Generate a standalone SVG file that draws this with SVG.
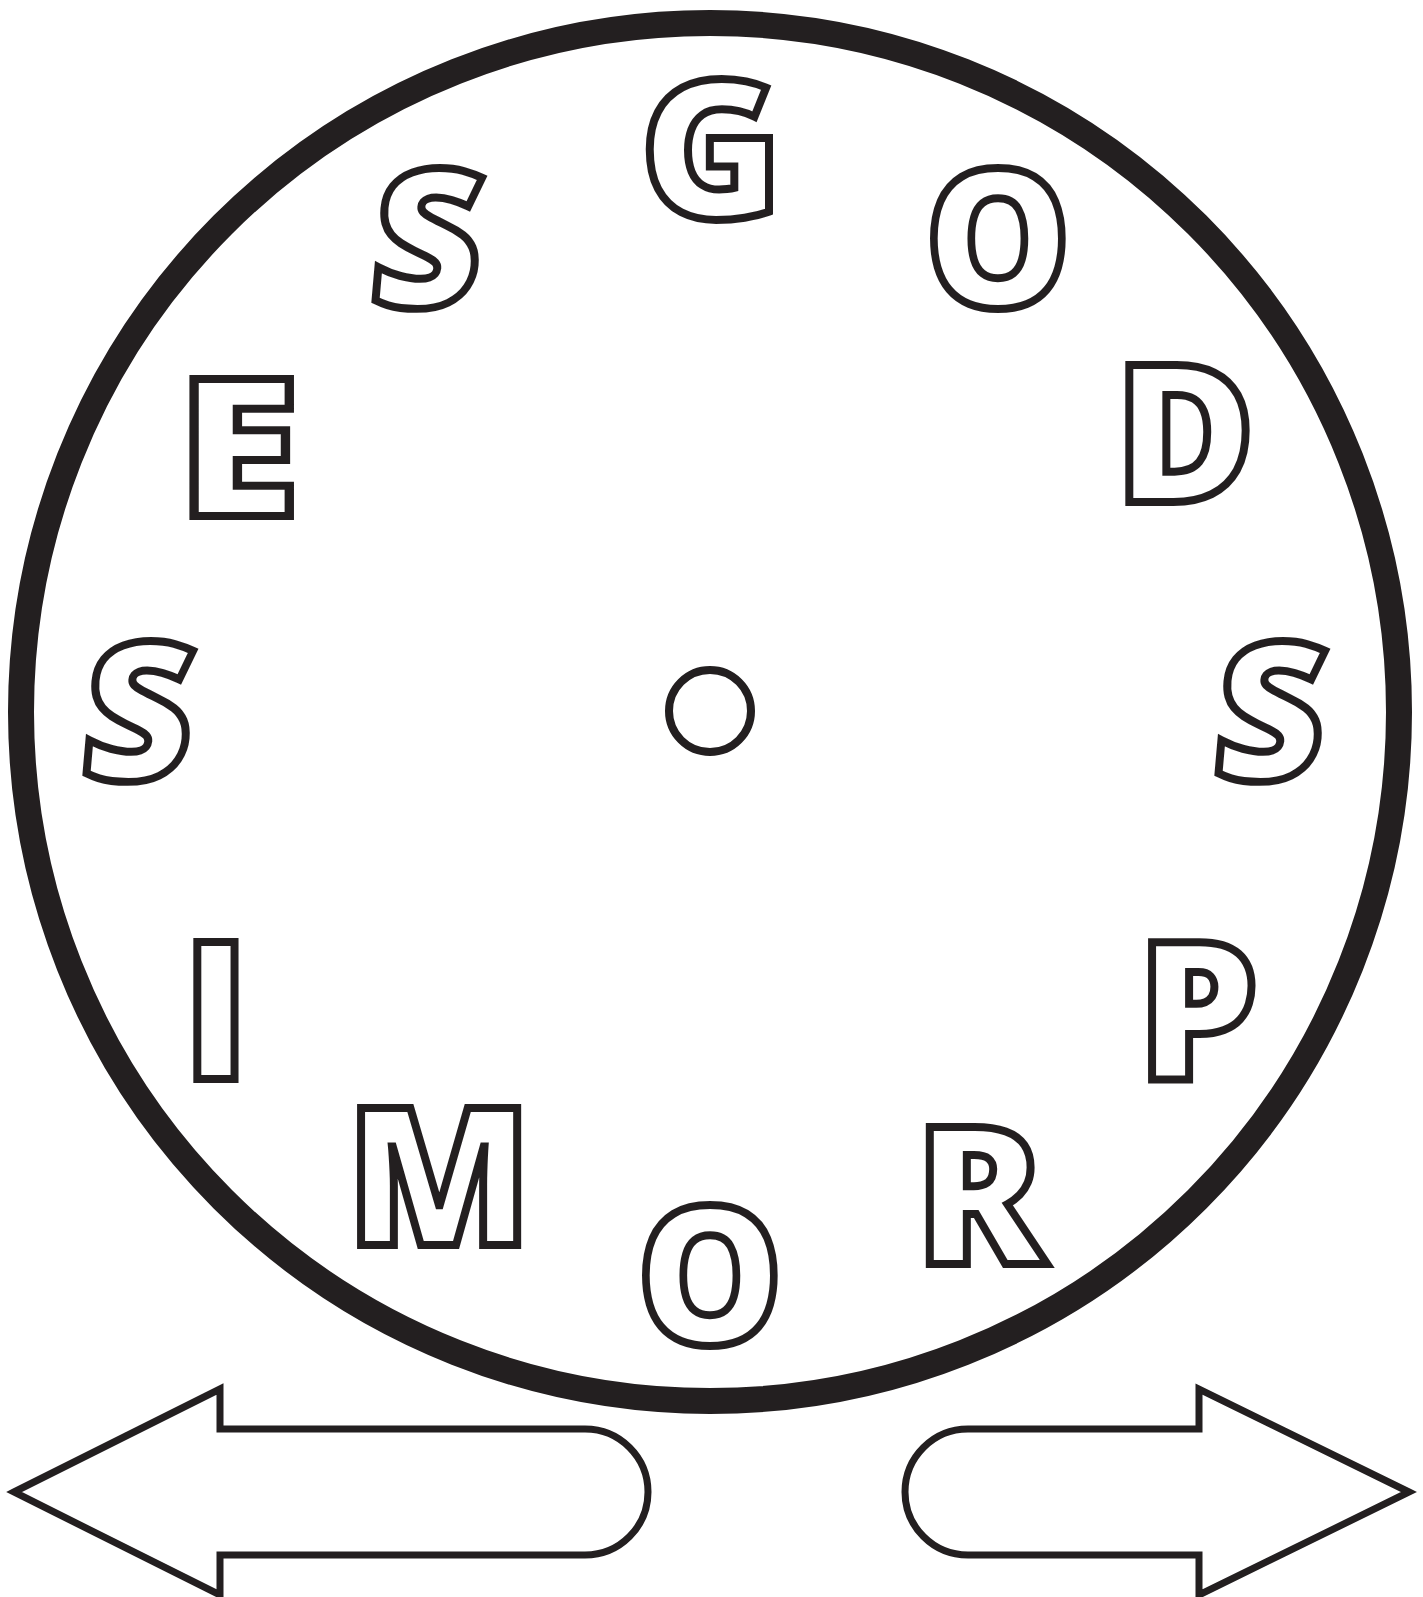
<svg xmlns="http://www.w3.org/2000/svg" width="1423" height="1597" viewBox="0 0 1423 1597">
<style>
.ring{fill:#fff;stroke:#231f20;stroke-width:26}
.hub{fill:#fff;stroke:#231f20;stroke-width:8}
.ltr{font-family:"Open Sans","Noto Sans",sans-serif;font-weight:800;font-size:192px;fill:#fff;stroke:#231f20;stroke-width:8;stroke-linejoin:miter;text-anchor:middle}
.arrow{fill:#fff;stroke:#231f20;stroke-width:7;stroke-linejoin:miter}
</style>
<rect width="1423" height="1597" fill="#fff"/>
<g id="dial">
<circle class="ring" cx="710" cy="712" r="689"/>
<circle class="hub" cx="710" cy="711" r="41"/>
</g>
<g id="letters">
<g id="l-G"><text class="ltr" x="711" y="218">G</text></g>
<g id="l-O1"><text class="ltr" x="998" y="307" transform="translate(998 238) scale(0.96 1) translate(-998 -238)">O</text></g>
<g id="l-D"><text class="ltr" x="1185" y="502">D</text></g>
<g id="l-S1"><text class="ltr" x="1271" y="780" transform="translate(1271 711) skewX(-5) translate(-1271 -711)">S</text></g>
<g id="l-P"><text class="ltr" x="1198" y="1079">P</text></g>
<g id="l-R"><text class="ltr" x="980" y="1264">R</text></g>
<g id="l-O2"><text class="ltr" x="710" y="1344" transform="translate(710 1273) scale(0.96 1) translate(-710 -1273)">O</text></g>
<g id="l-M"><text class="ltr" x="439" y="1245">M</text></g>
<g id="l-I"><text class="ltr" x="216" y="1079">I</text></g>
<g id="l-S2"><text class="ltr" x="139" y="780" transform="translate(139 711) skewX(-5) translate(-139 -711)">S</text></g>
<g id="l-E"><text class="ltr" x="239" y="516" transform="translate(243 447) scale(1.17 1) translate(-243 -447)">E</text></g>
<g id="l-S3"><text class="ltr" x="428" y="307" transform="translate(428 238) skewX(-5) translate(-428 -238)">S</text></g>
</g>
<g id="connectors">
<path class="arrow" d="M14 1492 L220 1389 L220 1429 L585 1429 A63 63 0 0 1 585 1555 L220 1555 L220 1595 Z"/>
<path class="arrow" d="M1409 1492 L1199 1389 L1199 1429 L968 1429 A63 63 0 0 0 968 1555 L1199 1555 L1199 1595 Z"/>
</g>
</svg>
